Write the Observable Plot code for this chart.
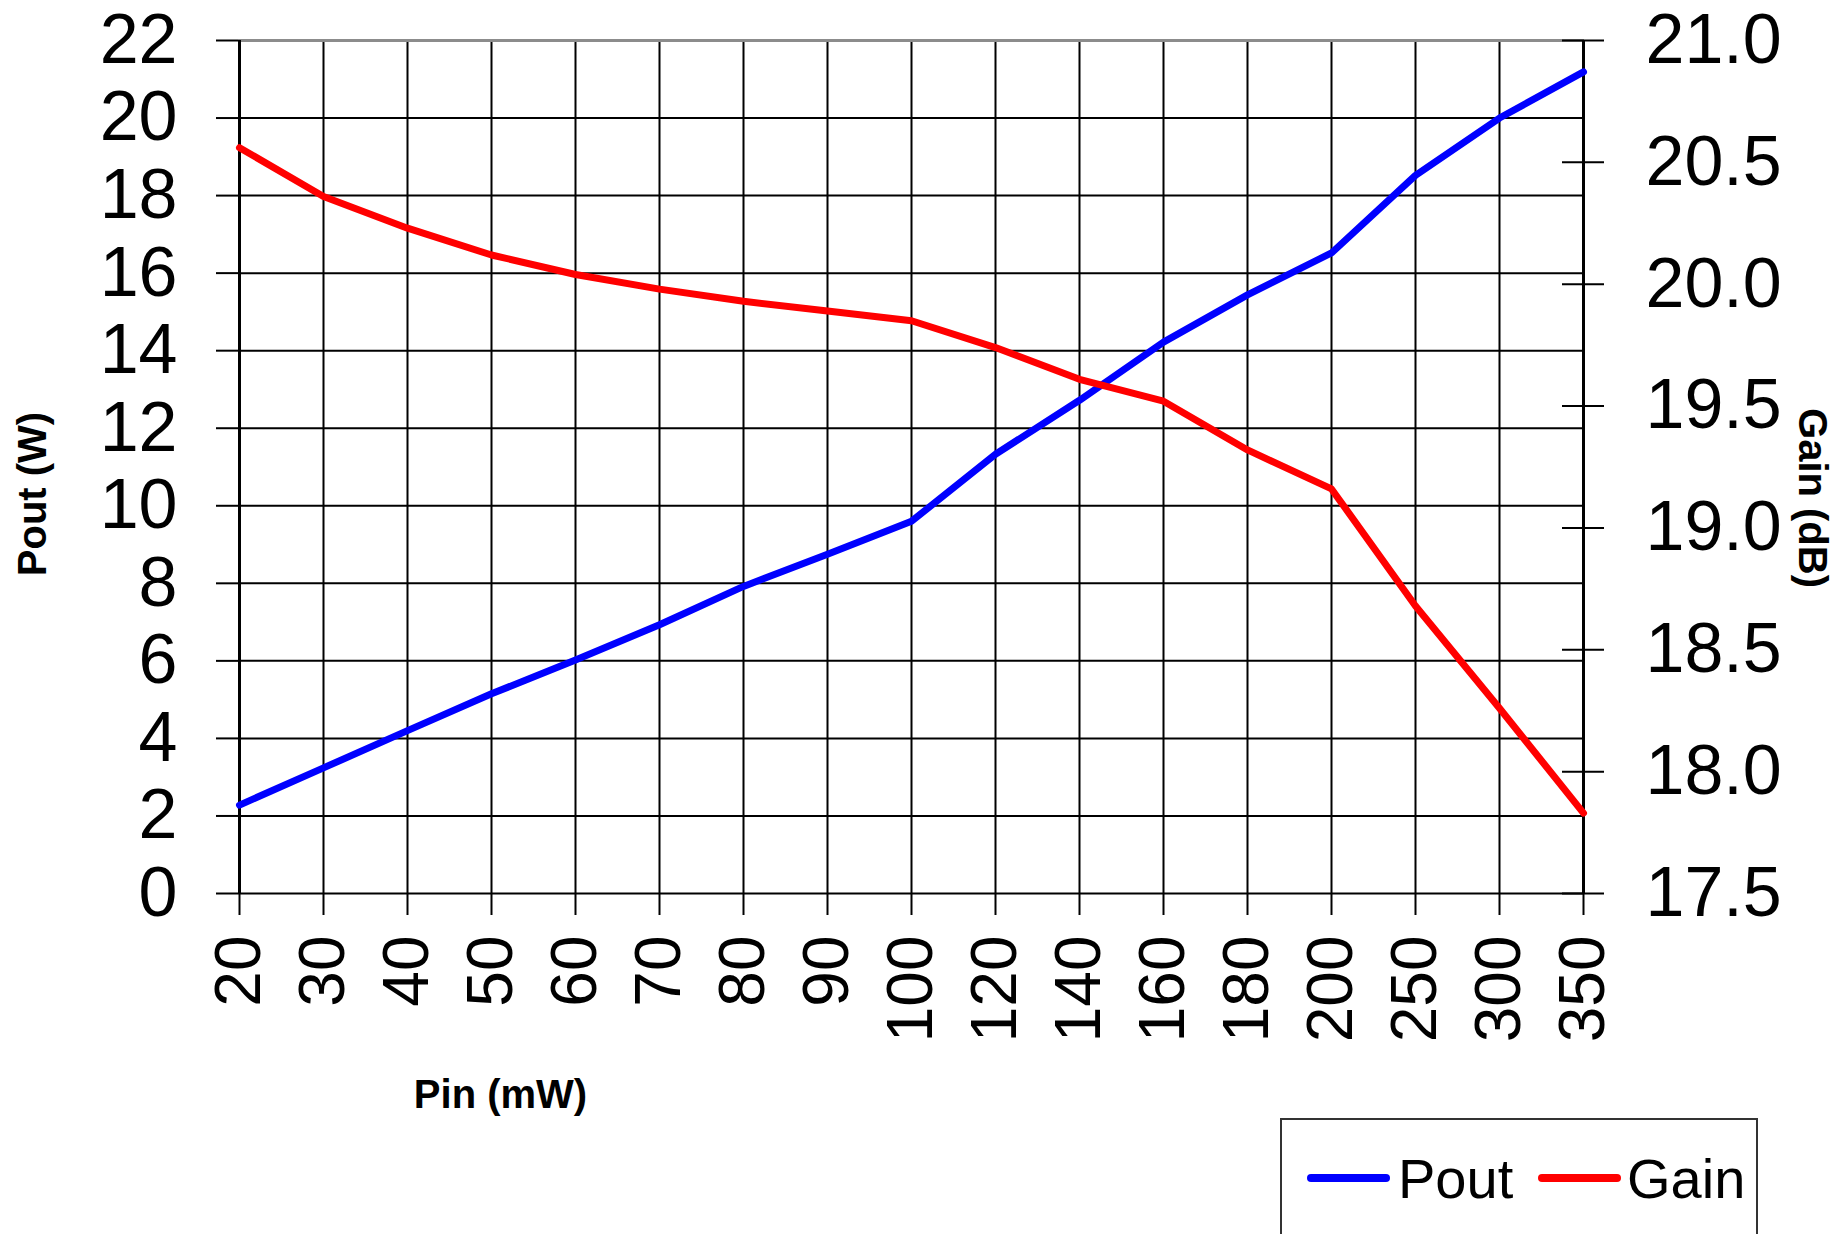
<!DOCTYPE html>
<html>
<head>
<meta charset="utf-8">
<script src="https://cdn.jsdelivr.net/npm/d3@7"></script>
<script src="https://cdn.jsdelivr.net/npm/@observablehq/plot@0.6"></script>
<style>
  html, body { margin: 0; padding: 0; background: #fff; overflow: hidden; }
  #chart svg { display: block; }
  .legend {
    margin-left: 1280px; margin-top: -12px; width: 478px; height: 140px;
    border: 2px solid #333; box-sizing: border-box; position: relative;
    font-family: "Liberation Sans", Arial, sans-serif; font-size: 56px; color: #000;
  }
  .legend .sw { position: absolute; top: 54px; height: 8px; width: 83px; border-radius: 4px; }
  .legend .lb { position: absolute; top: 31px; line-height: 1; }
</style>
</head>
<body>
<div id="chart"></div>
<div class="legend">
  <div class="sw" style="left:25px;background:#0000ff"></div>
  <div class="lb" style="left:116px">Pout</div>
  <div class="sw" style="left:256px;background:#ff0000"></div>
  <div class="lb" style="left:345px">Gain</div>
</div>
<script>
const pinLabels = ["20","30","40","50","60","70","80","90","100","120","140","160","180","200","250","300","350"];
const poutW = [2.28, 3.24, 4.2, 5.15, 6.02, 6.93, 7.92, 8.75, 9.6, 11.33, 12.72, 14.22, 15.44, 16.52, 18.52, 20.0, 21.19];
const gainDB = [20.56, 20.36, 20.23, 20.12, 20.04, 19.98, 19.93, 19.89, 19.85, 19.74, 19.61, 19.52, 19.32, 19.16, 18.68, 18.26, 17.83];
const poutTicks = [0, 2, 4, 6, 8, 10, 12, 14, 16, 18, 20, 22];
const gainTicks = [17.5, 18.0, 18.5, 19.0, 19.5, 20.0, 20.5, 21.0];

const gainMin = 17.5, gainMax = 21.0, poutMax = 22;
const toY = g => (g - gainMin) / (gainMax - gainMin) * poutMax;
const fromY = v => gainMin + v / poutMax * (gainMax - gainMin);

const rows = pinLabels.map((p, i) => ({pin: p, pout: poutW[i], gain: gainDB[i]}));
const lastPin = pinLabels[pinLabels.length - 1];

const chart = Plot.plot({
  width: 1837,
  height: 1130,
  marginLeft: 238,
  marginRight: 253,
  marginTop: 40,
  marginBottom: 237,
  style: {fontFamily: "'Liberation Sans', Arial, sans-serif", background: "white", color: "black"},
  x: {type: "point", domain: pinLabels, padding: 0},
  y: {domain: [0, poutMax]},
  marks: [
    Plot.ruleX(pinLabels, {x: d => d, stroke: "#000", strokeWidth: 2}),
    Plot.ruleY(poutTicks.slice(0, -1), {y: d => d, stroke: "#000", strokeWidth: 2}),
    Plot.ruleY([poutMax], {y: d => d, stroke: "#8c8c8c", strokeWidth: 3}),
    Plot.ruleX([pinLabels[0], lastPin], {x: d => d, stroke: "#000", strokeWidth: 3}),
    Plot.axisY({ticks: poutTicks, tickSize: 22, tickPadding: 39, fontSize: 70, label: null, strokeWidth: 2}),
    Plot.axisX({tickSize: 22, tickPadding: 20, tickRotate: -90, fontSize: 64, label: null, strokeWidth: 2}),
    Plot.ruleY(gainTicks.map(toY), {y: d => d, x1: () => lastPin, x2: () => lastPin, insetLeft: -21, insetRight: -21, stroke: "#000", strokeWidth: 2}),
    Plot.axisY({anchor: "right", ticks: gainTicks.map(toY), tickSize: 0, tickPadding: 61, fontSize: 70,
      tickFormat: v => fromY(v).toFixed(1), label: null}),
    Plot.line(rows, {x: "pin", y: "pout", stroke: "#0000ff", strokeWidth: 7, strokeLinejoin: "round", strokeLinecap: "round"}),
    Plot.line(rows, {x: "pin", y: d => toY(d.gain), stroke: "#ff0000", strokeWidth: 7, strokeLinejoin: "round", strokeLinecap: "round"}),
    Plot.text(["Pout (W)"], {frameAnchor: "left", text: d => d, rotate: -90, dx: -205, dy: 27, textAnchor: "middle", fontSize: 40, fontWeight: "bold"}),
    Plot.text(["Gain (dB)"], {frameAnchor: "right", text: d => d, rotate: 90, dx: 227, dy: 31, textAnchor: "middle", fontSize: 40, fontWeight: "bold"}),
    Plot.text(["Pin (mW)"], {frameAnchor: "bottom", text: d => d, dx: -411, dy: 214, textAnchor: "middle", fontSize: 40, fontWeight: "bold"})
  ]
});
document.getElementById("chart").appendChild(chart);
</script>
</body>
</html>
